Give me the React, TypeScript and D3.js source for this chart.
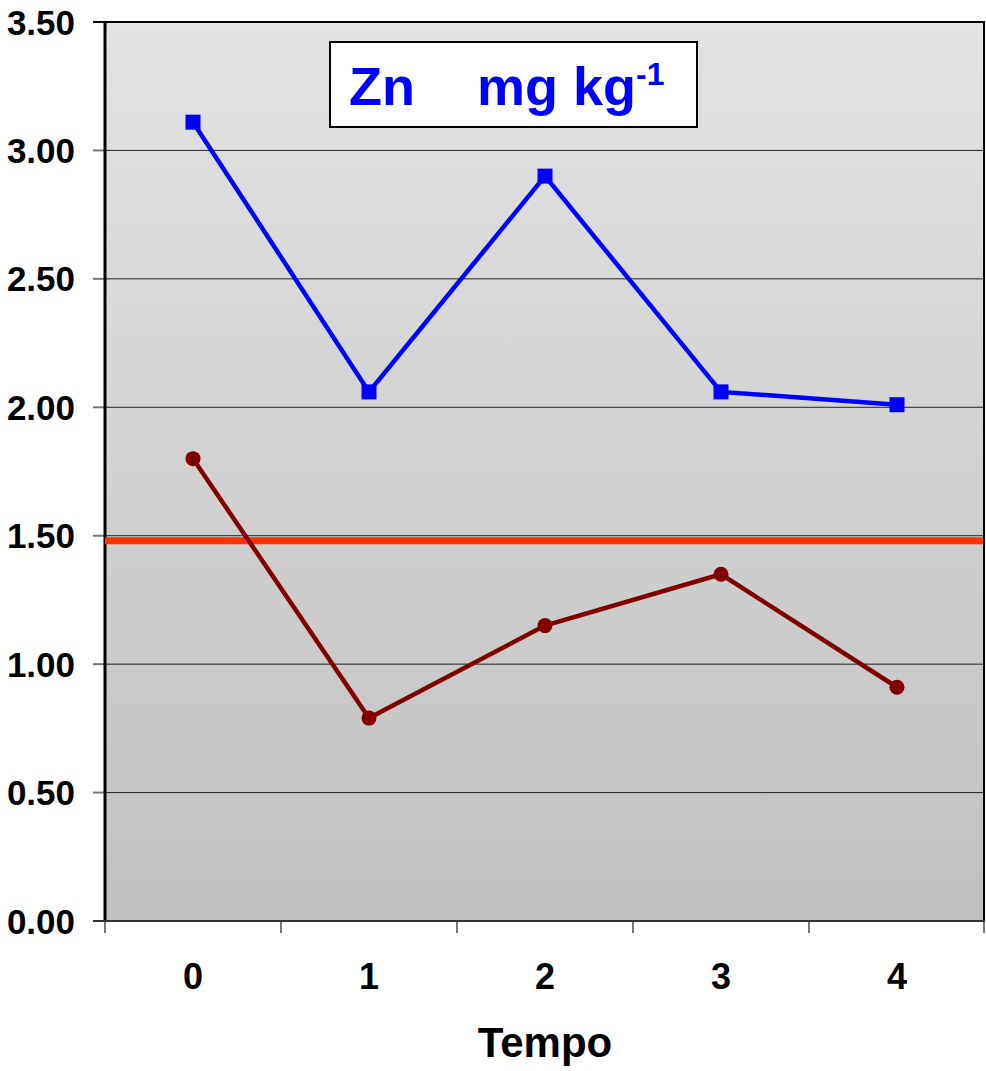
import React from 'react';
import * as d3 from 'd3';

const categories = ['0', '1', '2', '3', '4'];
const serieAzul = [3.11, 2.06, 2.90, 2.06, 2.01];
const serieVermelha = [1.80, 0.79, 1.15, 1.35, 0.91];
const limite = 1.48;
const yTicks = [0, 0.5, 1, 1.5, 2, 2.5, 3, 3.5];

const W = 986;
const H = 1071;
const margin = { top: 22, right: 1, bottom: 150, left: 105 };

export default function App() {
  const x = d3.scaleBand<string>()
    .domain(categories)
    .range([margin.left, W - margin.right]);
  const y = d3.scaleLinear()
    .domain([0, 3.5])
    .range([H - margin.bottom, margin.top]);

  const cx = (c: string) => (x(c) ?? 0) + x.bandwidth() / 2;
  const line = d3.line<number>()
    .x((_, i) => cx(categories[i]))
    .y(d => y(d));

  const x0 = margin.left;
  const x1 = W - margin.right;
  const y0 = y(0);
  const y1 = y(3.5);
  const font = 'Liberation Sans, Arial, sans-serif';

  return (
    <svg width={W} height={H} style={{ position: 'absolute', left: 0, top: 0, background: '#fff' }}>
      <defs>
        <linearGradient id="bg" x1="0" y1="0" x2="0" y2="1">
          <stop offset="0%" stopColor="#e3e3e3" />
          <stop offset="100%" stopColor="#c0c0c0" />
        </linearGradient>
      </defs>
      <rect x={x0} y={y1} width={x1 - x0} height={y0 - y1} fill="url(#bg)" />

      {/* gridlines */}
      {yTicks.slice(1, -1).map(t => (
        <line key={t} x1={x0} x2={x1} y1={y(t)} y2={y(t)} stroke="#222" strokeWidth={1} />
      ))}

      {/* border */}
      <line x1={x0} x2={x1} y1={y1} y2={y1} stroke="#000" strokeWidth={2} />
      <line x1={x1 - 1} x2={x1 - 1} y1={y1} y2={y0} stroke="#000" strokeWidth={2} />

      {/* y ticks and labels */}
      {yTicks.map(t => (
        <g key={t}>
          <line x1={x0 - 12} x2={x0} y1={y(t)} y2={y(t)} stroke={t === 3.5 ? '#000' : '#777'} strokeWidth={2} />
          <text x={75} y={y(t)} dy="0.36em" textAnchor="end" fontFamily={font}
            fontWeight="bold" fontSize={35} fill="#000">{t.toFixed(2)}</text>
        </g>
      ))}

      {/* x ticks */}
      {[...categories.map(c => x(c) ?? 0), x1 - 1].map((p, i) => (
        <line key={i} x1={p} x2={p} y1={y0} y2={y0 + 12} stroke="#777" strokeWidth={2} />
      ))}
      {categories.map(c => (
        <text key={c} x={cx(c)} y={989} textAnchor="middle" fontFamily={font}
          fontWeight="bold" fontSize={36} fill="#000">{c}</text>
      ))}
      <text x={(x0 + x1) / 2} y={1057} textAnchor="middle" fontFamily={font}
        fontWeight="bold" fontSize={42} fill="#000">Tempo</text>

      {/* axes */}
      <line x1={x0} x2={x0} y1={y1} y2={y0} stroke="#000" strokeWidth={3} />
      <line x1={x0 - 12} x2={x1} y1={y0} y2={y0} stroke="#333" strokeWidth={2} />

      {/* reference line */}
      <line x1={x0} x2={x1 - 2} y1={y(limite)} y2={y(limite)} stroke="#ff3300" strokeWidth={7} />

      {/* series */}
      <path d={line(serieAzul) ?? ''} fill="none" stroke="#0000ff" strokeWidth={4.5} />
      {serieAzul.map((v, i) => (
        <rect key={i} x={cx(categories[i]) - 7.5} y={y(v) - 7.5} width={15} height={15} fill="#0000ff" />
      ))}
      <path d={line(serieVermelha) ?? ''} fill="none" stroke="#800000" strokeWidth={4.5} />
      {serieVermelha.map((v, i) => (
        <circle key={i} cx={cx(categories[i])} cy={y(v)} r={7.5} fill="#800000" />
      ))}

      {/* title box */}
      <rect x={330} y={42} width={367} height={85} fill="#fff" stroke="#000" strokeWidth={2} />
      <text x={349} y={105} fontFamily={font} fontWeight="bold" fontSize={54} fill="#0000ff">
        Zn
        <tspan dx={62}>mg kg</tspan>
        <tspan fontSize={32} dy={-20}>-1</tspan>
      </text>
    </svg>
  );
}
